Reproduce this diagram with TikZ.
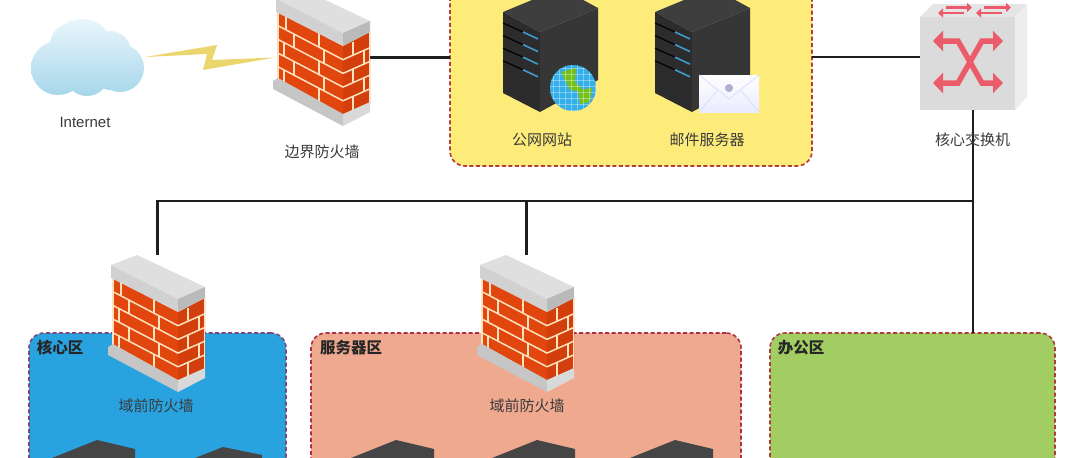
\documentclass[tikz,border=0pt]{standalone}
\usepackage{fontspec}
\newfontfamily\cjk{Noto Sans CJK SC}
\setmainfont{Liberation Sans}
\usetikzlibrary{arrows.meta,calc}
\definecolor{bricka}{HTML}{E2460F}
\definecolor{brickb}{HTML}{D23F0C}
\definecolor{mortar}{HTML}{FFE2BC}
\definecolor{linkc}{HTML}{1E1E1E}
\definecolor{labc}{HTML}{3A3A3A}
\definecolor{pinkc}{HTML}{EC5B69}
\definecolor{cloudtop}{HTML}{EAF6FC}
\definecolor{cloudbot}{HTML}{A6D6EA}
\definecolor{boltc}{HTML}{EBD66E}
\definecolor{ledc}{HTML}{3E9BCD}
\definecolor{srvtop}{HTML}{3E3E3E}
\definecolor{srvleft}{HTML}{2C2C2C}
\definecolor{srvright}{HTML}{363636}
\definecolor{srvlow}{HTML}{454545}
\tikzset{
  slot/.style={inner sep=0pt,outer sep=0pt,draw=none,fill=none},
  zone/.style={inner sep=0pt,outer sep=0pt,rounded corners=15pt,line width=1.6pt,dash pattern=on 4pt off 2.5pt},
  link/.style={draw=linkc,line width=2.2pt},
  lab/.style={font=\cjk\fontsize{15}{15}\selectfont,text=labc,inner sep=0pt},
  zlab/.style={font=\cjk\bfseries\fontsize{15.5}{16}\selectfont,text=black!85,inner sep=0pt},
  pics/firewall/.style={code={
    % brick faces
    \fill[bricka] (3,23) -- (68,57) -- (68,127) -- (3,92) -- cycle;
    \fill[brickb] (68,57) -- (95,43) -- (95,115) -- (68,127) -- cycle;
    \begin{scope}[draw=mortar,line width=1.5pt]
      \foreach \k in {1,...,4} {
        \draw (3,{23+13.7*\k}) -- (68,{57+13.7*\k});
        \draw (68,{57+13.7*\k}) -- (95,{45+13.7*\k});
      }
      \foreach \k/\x in {0/11,0/44,1/19,1/49,2/9,2/44,3/19,3/49,4/9,4/44} {
        \draw (\x,{23+(\x-3)*.523+13.7*\k}) -- ++(0,13.7);
      }
      \foreach \k/\x in {0/78,1/89,2/78,3/89,4/78} {
        \draw (\x,{57-(\x-68)*.44+13.7*\k}) -- ++(0,13.7);
      }
      \draw (3,23) -- (3,92);
      \draw (94.5,43) -- (94.5,115);
    \end{scope}
    % cap
    \fill[gray!25] (1,10) -- (27,0) -- (95,32) -- (68,44) -- cycle;
    \fill[gray!36] (1,10) -- (68,44) -- (68,57) -- (1,23) -- cycle;
    \fill[gray!54] (68,44) -- (95,32) -- (95,43) -- (68,57) -- cycle;
    % base
    \fill[gray!45] (-2,92) -- (3,89) -- (68,125) -- (68,137) -- (-2,100) -- cycle;
    \fill[gray!30] (68,125) -- (95,113) -- (95,123) -- (68,137) -- cycle;
  }},
  pics/server/.style={code={
    \fill[srvtop] (0,0) -- (58,-24) -- (95,-4) -- (37,20) -- cycle;
    \fill[srvleft] (0,0) -- (37,20) -- (37,100) -- (0,81) -- cycle;
    \fill[srvright] (37,20) -- (95,-4) -- (95,68) -- (37,100) -- cycle;
    \foreach \i in {0,1,2,3} {
      \draw[black,line width=1.2pt] (0,{11+12.6*\i}) -- (20,{20+12.6*\i});
      \draw[ledc,line width=1.6pt] (20,{20+12.6*\i}) -- (35,{27+12.6*\i});
    }
  }},
  pics/servertop/.style={code={
    \fill[srvlow] (0,0) -- (38,9) -- (38,30) -- (-60,30) -- (-60,24) -- cycle;
  }}
}
\begin{document}
\begin{tikzpicture}[x=1pt,y=-1pt]
\clip (0,0) rectangle (1080,458);
\fill[white] (0,0) rectangle (1080,458);
% zones
\node[zone,fill={rgb,255:red,253;green,235;blue,122},draw={rgb,255:red,178;green,62;blue,62},minimum width=362pt,minimum height=186pt] (dmz) at (631,73) {};
\node[zone,fill={rgb,255:red,41;green,163;blue,224},draw={rgb,255:red,125;green,70;blue,125},minimum width=257pt,minimum height=167pt] (corezone) at (157.5,416.5) {};
\node[zone,fill={rgb,255:red,239;green,169;blue,143},draw={rgb,255:red,170;green,50;blue,70},minimum width=430pt,minimum height=167pt] (srvzone) at (526,416.5) {};
\node[zone,fill={rgb,255:red,162;green,205;blue,98},draw={rgb,255:red,175;green,60;blue,60},minimum width=285pt,minimum height=167pt] (office) at (912.5,416.5) {};
% anchors for devices
\node[slot,minimum width=115pt,minimum height=80pt] (cloud) at (87.5,57) {};
\node[slot,minimum width=95pt,minimum height=137pt] (fw1) at (322.5,57.5) {};
\node[slot,minimum width=95pt,minimum height=137pt] (fw2) at (157.5,323.5) {};
\node[slot,minimum width=95pt,minimum height=137pt] (fw3) at (526.5,323.5) {};
\node[slot,minimum width=106pt,minimum height=106pt] (sw) at (973,57) {};
\coordinate (hub) at (973,201);
% connectors
\draw[link] (fw1.east) -- (fw1.east -| dmz.west);
\draw[link] (sw.west -| dmz.east) -- (sw.west);
\draw[link] (sw.south) -- (sw.south |- office.north);
\draw[link] (hub) -- (hub -| fw2.north) -- (fw2.north);
\draw[link] (hub -| fw3.north) -- (fw3.north);
% lightning
\fill[boltc] ($(cloud.east)+(0,0)$) -- ($(cloud.east)+(72,-12)$) -- ($(cloud.east)+(67,3)$) -- (fw1.west) -- ($(cloud.east)+(58,13)$) -- ($(cloud.east)+(62,-3)$) -- cycle;
% cloud
\shade[top color=cloudtop,bottom color=cloudbot]
  (58,68) circle (27pt) (72,45) circle (22pt) (82,50) circle (31pt) (110,52) circle (21pt)
  (120,68) circle (24pt) (87,74) circle (22pt) (110,76) circle (14pt) (62,76) circle (15pt);
% firewalls
\pic at (fw1.north west) {firewall};
\pic at (fw2.north west) {firewall};
\pic at (fw3.north west) {firewall};
% DMZ servers
\node[slot] (web) at (550,50) {};
\node[slot] (mail) at (702,50) {};
\pic at (503,12) {server};
\pic at (655,12) {server};
% globe
\node[slot,minimum size=46pt] (globe) at (573,88) {};
\begin{scope}
  \clip (573,88) circle (23pt);
  \fill[blue!35!cyan!80!black!90!white] (550,65) rectangle (596,111);
  \fill[blue!30!cyan!70!white,opacity=.55] (550,65) rectangle (596,111);
  \fill[green!55!black!60!yellow!90!white] (561,72) -- (576,68) -- (575,82) -- (585,92) -- (570,90) -- (566,82) -- cycle;
  \fill[green!55!black!60!yellow!90!white] (578,90) -- (592,88) -- (590,102) -- (580,104) -- cycle;
  \foreach \d in {-20,-14,...,22} {
    \draw[white,opacity=.35,line width=.4pt] (573+\d,65) -- (573+\d,111);
    \draw[white,opacity=.35,line width=.4pt] (550,88+\d) -- (596,88+\d);
  }
\end{scope}
% envelope
\node[slot,minimum width=60pt,minimum height=37pt] (env) at (729,93.5) {};
\shade[top color=white,bottom color=blue!8!white] (env.north west) rectangle (env.south east);
\draw[blue!14!white,line width=.8pt] (env.north west) -- (729,99) -- (env.north east);
\draw[blue!14!white,line width=.8pt] (env.south west) -- (717,91);
\draw[blue!14!white,line width=.8pt] (env.south east) -- (741,91);
\fill[blue!25!gray!50!white] (729,88) circle (4pt);
% lower servers
\pic at (97,440) {servertop};
\fill[srvlow] (223,447) -- (262,455) -- (262,460) -- (190,460) -- cycle;
\pic at (396,440) {servertop};
\pic at (537,440) {servertop};
\pic at (675,440) {servertop};
% switch
\fill[gray!28] (920,17) -- (1015,17) -- (1015,110) -- (920,110) -- cycle;
\fill[gray!20] (920,17) -- (933,4) -- (1027,4) -- (1015,17) -- cycle;
\fill[gray!14] (1015,17) -- (1027,4) -- (1027,97) -- (1015,110) -- cycle;
\begin{scope}[draw=pinkc,line width=5.5pt,line join=miter]
  \draw[{Triangle[length=10pt,width=20pt,fill=pinkc]}-{Triangle[length=10pt,width=20pt,fill=pinkc]}] (933,41) -- (958,41) -- (982,83) -- (1003,83);
  \draw[{Triangle[length=10pt,width=20pt,fill=pinkc]}-{Triangle[length=10pt,width=20pt,fill=pinkc]}] (933,83) -- (958,83) -- (982,41) -- (1003,41);
\end{scope}
\begin{scope}[draw=pinkc,line width=2.6pt]
  \draw[-{Triangle[length=5pt,width=9pt]}] (946,7.5) -- (972,7.5);
  \draw[-{Triangle[length=5pt,width=9pt]}] (964,13) -- (938,13);
  \draw[-{Triangle[length=5pt,width=9pt]}] (984,7.5) -- (1011,7.5);
  \draw[-{Triangle[length=5pt,width=9pt]}] (1002,13) -- (976,13);
\end{scope}
% labels
\node[font=\fontsize{15}{16}\selectfont,text=labc,inner sep=0pt] (linet) at (85,122) {Internet};
\node[lab] (l1) at (322,152) {边界防火墙};
\node[lab] (l2) at (542,140) {公网网站};
\node[lab] (l3) at (707,140) {邮件服务器};
\node[lab] (l4) at (972.5,140) {核心交换机};
\node[lab] (l5) at (156,406) {域前防火墙};
\node[lab] (l6) at (527,406) {域前防火墙};
\node[zlab] (z1) at (60,348) {核心区};
\node[zlab] (z2) at (351,348) {服务器区};
\node[zlab] (z3) at (801,348) {办公区};
\end{tikzpicture}
\end{document}
